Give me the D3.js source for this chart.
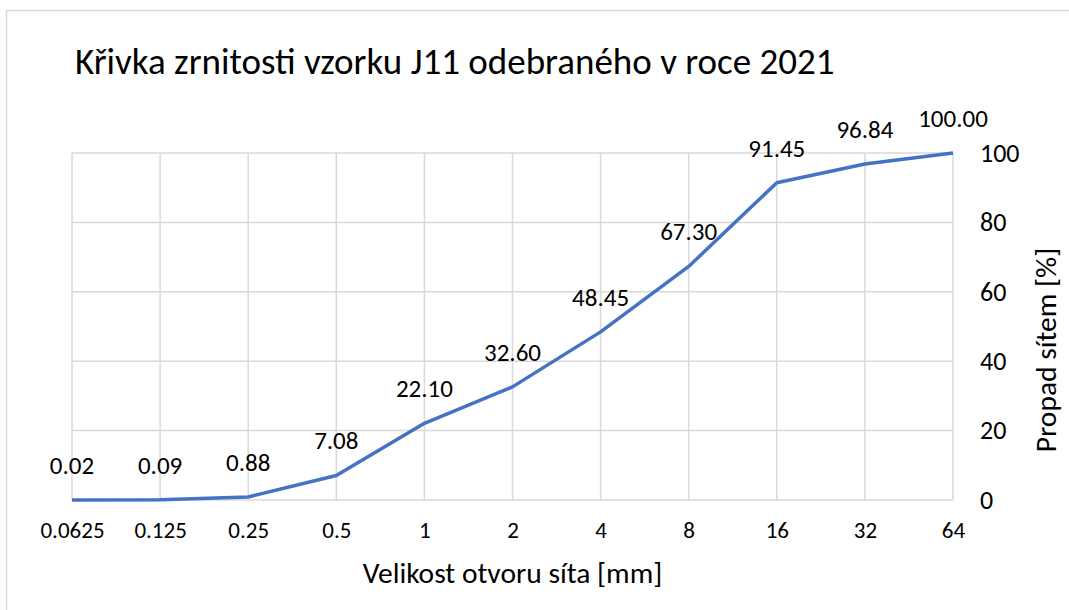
<!DOCTYPE html>
<html>
<head>
<meta charset="utf-8">
<script src="https://cdn.jsdelivr.net/npm/d3@7"></script>
<style>
  html, body { margin: 0; padding: 0; background: #fff; }
  svg text { font-family: Carlito, Lato, "Noto Sans", sans-serif; fill: #000; }
</style>
</head>
<body>
<svg id="chart" width="1069" height="610"></svg>
<script>
// Sieve opening sizes [mm] and cumulative passing [%]
const sieveSizes = ["0.0625", "0.125", "0.25", "0.5", "1", "2", "4", "8", "16", "32", "64"];
const passing = [0.02, 0.09, 0.88, 7.08, 22.10, 32.60, 48.45, 67.30, 91.45, 96.84, 100.00];
const yTicks = [0, 20, 40, 60, 80, 100];

const title = "Křivka zrnitosti vzorku J11 odebraného v roce 2021";
const xTitle = "Velikost otvoru síta [mm]";
const yTitle = "Propad sítem [%]";

const svg = d3.select("#chart");
const plot = { left: 72, right: 953, top: 153, bottom: 500 };

const x = d3.scalePoint().domain(sieveSizes).range([plot.left, plot.right]);
const y = d3.scaleLinear().domain([0, 100]).range([plot.bottom, plot.top]);

// Outer chart frame
svg.append("rect")
  .attr("x", 6.5).attr("y", 10.5)
  .attr("width", 1100).attr("height", 700)
  .attr("fill", "none").attr("stroke", "#d9d9d9").attr("stroke-width", 1.5);

// Title
svg.append("text")
  .attr("x", 75).attr("y", 74)
  .attr("font-size", 37)
  .text(title);

// Gridlines
const grid = svg.append("g").attr("stroke", "#d9d9d9").attr("stroke-width", 1.5);
grid.selectAll("line.h").data(yTicks).join("line")
  .attr("x1", plot.left).attr("x2", plot.right)
  .attr("y1", d => y(d)).attr("y2", d => y(d));
grid.selectAll("line.v").data(sieveSizes).join("line")
  .attr("x1", d => x(d)).attr("x2", d => x(d))
  .attr("y1", plot.top).attr("y2", plot.bottom);

// Right value axis
const yAxis = svg.append("g")
  .attr("transform", `translate(${plot.right},0)`)
  .call(d3.axisRight(y).tickValues(yTicks).tickSize(0).tickPadding(27));
yAxis.select(".domain").remove();
yAxis.selectAll("text").attr("font-size", 26).attr("font-family", null).attr("fill", "#000");

// Bottom category axis
const xAxis = svg.append("g")
  .attr("transform", `translate(0,${plot.bottom})`)
  .call(d3.axisBottom(x).tickSize(0).tickPadding(22));
xAxis.select(".domain").remove();
xAxis.selectAll("text").attr("font-size", 23).attr("font-family", null).attr("fill", "#000");

// Axis titles
svg.append("text")
  .attr("x", (plot.left + plot.right) / 2).attr("y", 583)
  .attr("text-anchor", "middle").attr("font-size", 29.5)
  .text(xTitle);

svg.append("text")
  .attr("transform", `translate(1056,350) rotate(-90)`)
  .attr("text-anchor", "middle").attr("font-size", 29.5)
  .text(yTitle);

// Passing curve
const line = d3.line()
  .x((d, i) => x(sieveSizes[i]))
  .y(d => y(d));
svg.append("path")
  .datum(passing)
  .attr("d", line)
  .attr("fill", "none")
  .attr("stroke", "#4472c4")
  .attr("stroke-width", 3.5)
  .attr("stroke-linejoin", "round");

// Data labels
svg.selectAll("text.val").data(passing).join("text")
  .attr("class", "val")
  .attr("x", (d, i) => x(sieveSizes[i]))
  .attr("y", d => y(d) - 26)
  .attr("text-anchor", "middle")
  .attr("font-size", 25)
  .text(d => d.toFixed(2));
</script>
</body>
</html>
